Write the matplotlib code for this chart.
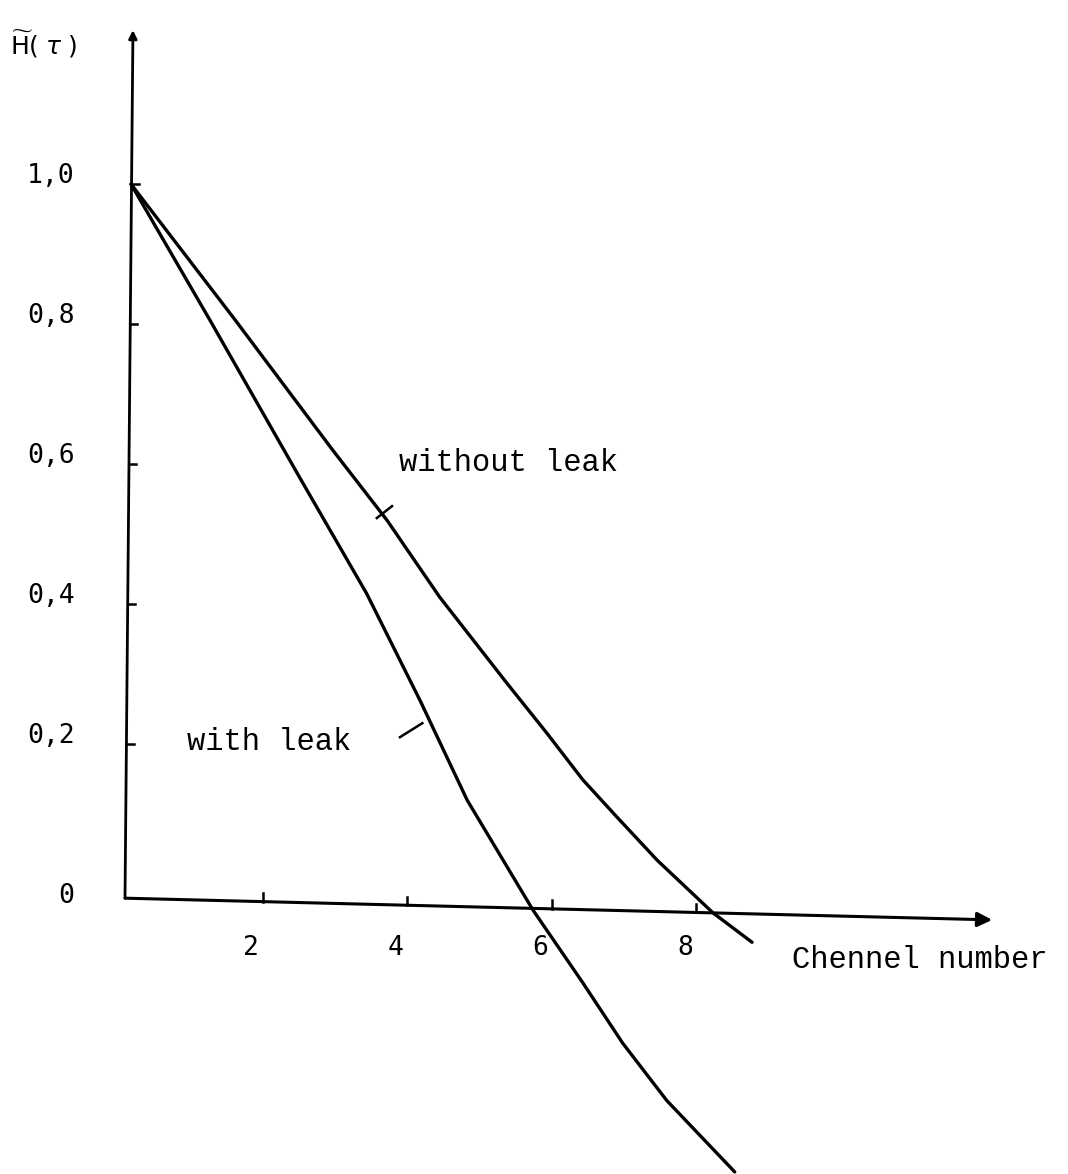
import numpy as np
import matplotlib.pyplot as plt

# readings (channel number, H~(tau))
with_leak_x = [0.18, 1.27, 2.49, 3.44, 4.18, 4.83, 5.74, 6.43, 6.98, 7.59, 8.53]
with_leak_y = [1.0, 0.806, 0.585, 0.415, 0.262, 0.12, -0.037, -0.141, -0.227, -0.309, -0.411]

without_leak_x = [0.18, 1.62, 2.97, 3.72, 4.45, 5.38, 5.93, 6.43, 6.90, 7.46, 8.23, 8.77]
without_leak_y = [1.0, 0.806, 0.62, 0.52, 0.41, 0.287, 0.216, 0.149, 0.096, 0.034, -0.041, -0.083]

x_ticks = [2, 4, 6, 8]
x_tick_labels = ['2', '4', '6', '8']
y_ticks = [1.0, 0.8, 0.6, 0.4, 0.2, 0.0]
y_tick_labels = ['1,0', '0,8', '0,6', '0,4', '0,2', '0']

typewriter = 'Liberation Mono'
digits = 'DejaVu Sans Mono'

fig = plt.figure(figsize=(10.68, 11.74), dpi=100)
ax = fig.add_axes([0, 0, 1, 1])
ax.set_xlim(-1.632, 13.14)
ax.set_ylim(-0.414, 1.263)
ax.axis('off')

# hand drawn axes
ax.annotate('', xy=(0.207, 1.22), xytext=(0.097, -0.02),
            arrowprops=dict(arrowstyle='-|>', color='black', lw=2.0,
                            mutation_scale=12, shrinkA=0, shrinkB=0))
ax.annotate('', xy=(12.09, -0.051), xytext=(0.097, -0.02),
            arrowprops=dict(arrowstyle='-|>', color='black', lw=2.2,
                            mutation_scale=22, shrinkA=0, shrinkB=0))

# tick marks
for v in y_ticks[:-1]:
    x0 = 0.097 + 0.11 * (v + 0.02) / 1.24
    ax.plot([x0, x0 + 0.1], [v, v], color='black', lw=1.8)
for v in x_ticks:
    y0 = -0.02 - 0.031 * (v - 0.097) / 12.0
    ax.plot([v, v], [y0, y0 + 0.012], color='black', lw=1.8)

# tick labels
for v, s in zip(y_ticks, y_tick_labels):
    ax.text(-0.6, v + 0.012 if v > 0 else -0.017, s, ha='right', va='center',
            fontsize=19, family=digits)
for v, s in zip(x_ticks, x_tick_labels):
    ax.text(v - 0.16, -0.091, s, ha='center', va='center',
            fontsize=19, family=digits)

# curves
ax.plot(with_leak_x, with_leak_y, color='black', lw=2.4,
        solid_capstyle='round', solid_joinstyle='round')
ax.plot(without_leak_x, without_leak_y, color='black', lw=2.4,
        solid_capstyle='round', solid_joinstyle='round')

# labels with leader marks
ax.text(3.88, 0.601, 'without leak', ha='left', va='center', fontsize=22, family=typewriter)
ax.plot([3.58, 3.79], [0.523, 0.54], color='black', lw=1.8)
ax.text(0.95, 0.203, 'with leak', ha='left', va='center', fontsize=22, family=typewriter)
ax.plot([3.90, 4.21], [0.21, 0.23], color='black', lw=1.8)

ax.text(9.32, -0.109, 'Chennel number', ha='left', va='center', fontsize=22, family=typewriter)
ax.text(-1.5, 1.2, r'$\widetilde{\mathrm{H}}(\;\tau\;)$', ha='left', va='center', fontsize=18)

fig.savefig('out.png', dpi=100)
